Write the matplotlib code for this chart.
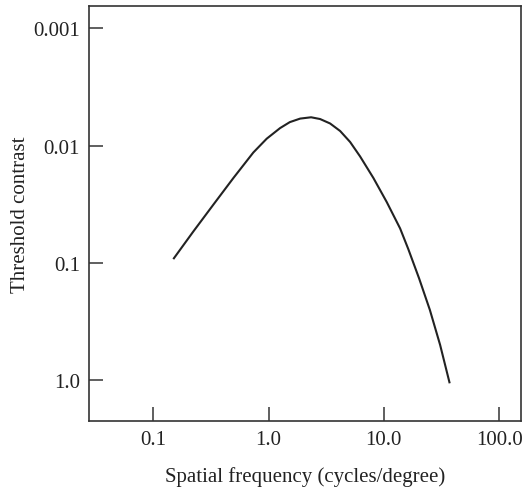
import matplotlib
matplotlib.use('Agg')
import matplotlib.pyplot as plt
from matplotlib.ticker import NullLocator

# contrast sensitivity curve
freq = [0.151, 0.222, 0.332, 0.495, 0.738, 0.964, 1.26, 1.53, 1.88, 2.34,
        2.80, 3.42, 4.18, 5.10, 6.23, 8.12, 10.6, 13.85, 16.3, 20.25, 25.1,
        30.8, 37.1]
thresh = [0.091, 0.054, 0.0318, 0.01888, 0.01143, 0.00872, 0.00708, 0.00630,
          0.00588, 0.00573, 0.00593, 0.00647, 0.00750, 0.00930, 0.01236,
          0.01884, 0.0302, 0.0507, 0.0759, 0.1353, 0.2508, 0.498, 1.036]

xticks = [0.1, 1.0, 10.0, 100.0]
xlabels = ['0.1', '1.0', '10.0', '100.0']
yticks = [0.001, 0.01, 0.1, 1.0]
ylabels = ['0.001', '0.01', '0.1', '1.0']

plt.rcParams['font.family'] = ['Liberation Serif', 'DejaVu Serif']

fig = plt.figure(figsize=(5.29, 4.89), dpi=100)
ax = fig.add_axes([89 / 529, 1 - 421.7 / 489, 431.7 / 529, 414.4 / 489])

ax.plot(freq, thresh, color='#222222', lw=1.5, solid_joinstyle='round')

ax.set_xscale('log')
ax.set_yscale('log')
ax.set_xlim(0.0277, 154)
ax.set_ylim(2.2, 0.00065)

ax.xaxis.set_minor_locator(NullLocator())
ax.yaxis.set_minor_locator(NullLocator())
ax.set_xticks(xticks)
ax.set_xticklabels(xlabels)
ax.set_yticks(yticks)
ax.set_yticklabels(ylabels)
ax.tick_params(direction='in', length=10, width=1.2, color='#444444',
               labelsize=15, labelcolor='#222222')
ax.tick_params(axis='x', pad=7)
ax.tick_params(axis='y', pad=6.5)

for s in ax.spines.values():
    s.set_linewidth(1.2)
    s.set_color('#333333')

ax.set_xlabel('Spatial frequency (cycles/degree)', fontsize=15, labelpad=12,
              color='#222222')
ax.set_ylabel('Threshold contrast', fontsize=15, labelpad=2, color='#222222')

fig.savefig('out.png', dpi=100)
